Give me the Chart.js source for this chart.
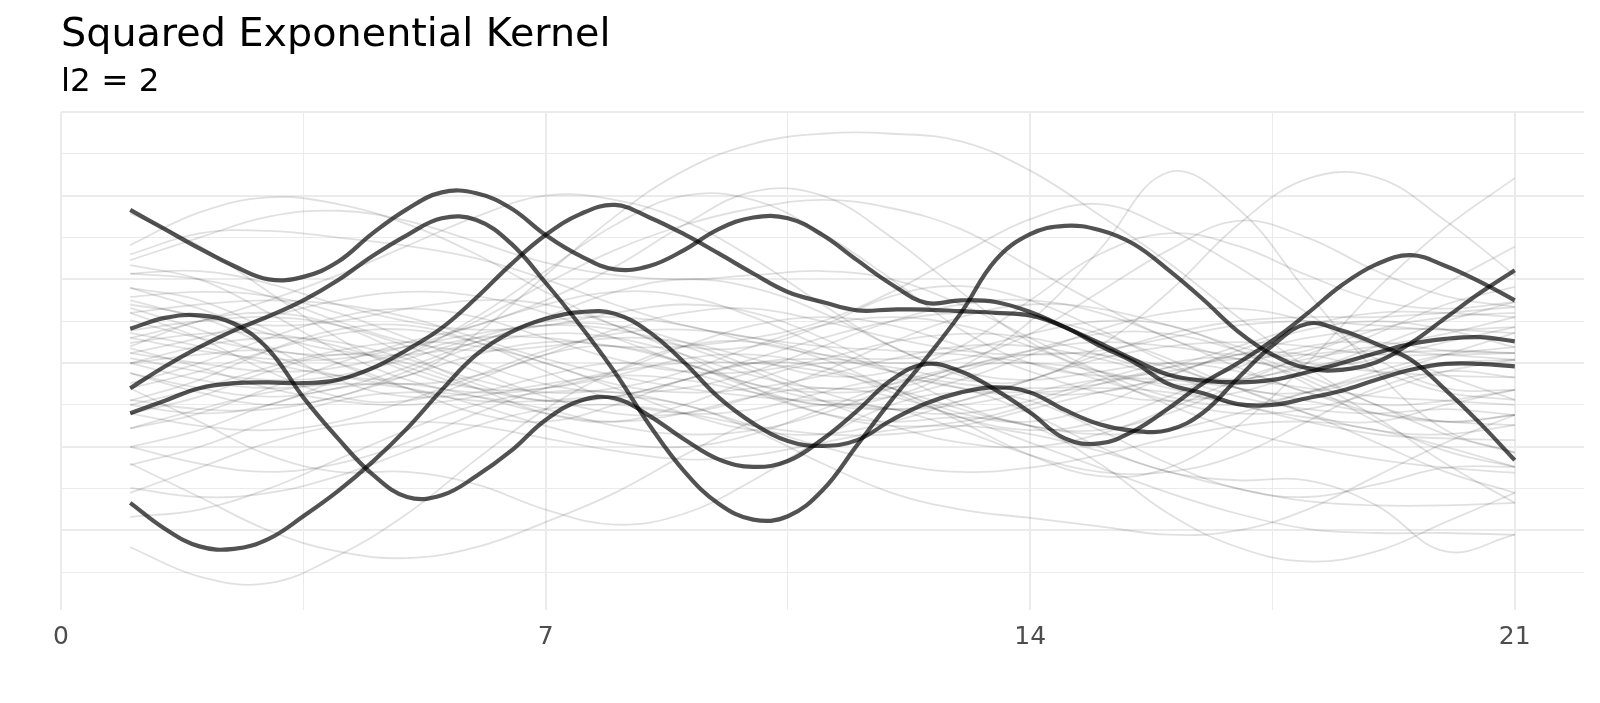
<!DOCTYPE html>
<html>
<head>
<meta charset="utf-8">
<title>Squared Exponential Kernel</title>
<script src="https://cdn.jsdelivr.net/npm/chart.js@4.4.1/dist/chart.umd.min.js"></script>
<style>
  html, body { margin: 0; padding: 0; background: #ffffff; }
  canvas { display: block; }
</style>
</head>
<body>
<canvas id="myChart" width="1600" height="703"></canvas>
<script>
// x positions of the samples
const xFine = [1, 1.5, 2, 2.5, 3, 3.5, 4, 4.5, 5, 5.5, 6, 6.5, 7, 7.5, 8, 8.5, 9, 9.5, 10, 10.5,
    11, 11.5, 12, 12.5, 13, 13.5, 14, 14.5, 15, 15.5, 16, 16.5, 17, 17.5, 18, 18.5, 19, 19.5, 20, 20.5, 21];
const xInt = [1, 2, 3, 4, 5, 6, 7, 8, 9, 10, 11, 12, 13, 14, 15, 16, 17, 18, 19, 20, 21];
const xTicks = [0, 3.5, 7, 10.5, 14, 17.5, 21];

// highlighted draws
const darkA = [1.83, 1.60, 1.37, 1.16, 1.00, 1.03, 1.21, 1.55, 1.84, 2.04, 2.03, 1.85, 1.53, 1.28, 1.12, 1.16, 1.35, 1.60, 1.74, 1.73,
    1.53, 1.23, 0.94, 0.72, 0.75, 0.73, 0.61, 0.43, 0.24, 0.04, -0.14, -0.21, -0.23, -0.20, -0.11, 0, 0.12, 0.23, 0.29, 0.31, 0.26];
const darkB = [-0.30, -0.04, 0.19, 0.39, 0.56, 0.75, 0.99, 1.28, 1.53, 1.73, 1.71, 1.43, 0.96, 0.45, -0.11, -0.74, -1.29, -1.68, -1.87, -1.83,
    -1.52, -0.98, -0.44, 0.06, 0.60, 1.23, 1.54, 1.64, 1.59, 1.42, 1.11, 0.76, 0.38, 0.10, -0.06, -0.08, 0.01, 0.24, 0.54, 0.84, 1.11];
const darkC = [0.41, 0.54, 0.57, 0.47, 0.16, -0.41, -0.90, -1.33, -1.60, -1.58, -1.35, -1.05, -0.68, -0.45, -0.42, -0.63, -0.91, -1.15, -1.24, -1.17,
    -0.91, -0.57, -0.20, -0.01, -0.10, -0.32, -0.59, -0.90, -0.96, -0.81, -0.54, -0.24, 0, 0.27, 0.59, 0.93, 1.18, 1.29, 1.16, 0.97, 0.75];
const darkD = [-0.60, -0.45, -0.30, -0.24, -0.23, -0.24, -0.20, -0.06, 0.16, 0.42, 0.78, 1.18, 1.53, 1.78, 1.89, 1.74, 1.54, 1.31, 1.07, 0.85,
    0.73, 0.63, 0.64, 0.64, 0.62, 0.60, 0.57, 0.43, 0.21, 0.01, -0.25, -0.36, -0.49, -0.50, -0.42, -0.33, -0.20, -0.08, -0.01, -0.01, -0.04];
const darkE = [-1.67, -1.98, -2.19, -2.22, -2.10, -1.83, -1.53, -1.18, -0.78, -0.32, 0.10, 0.37, 0.53, 0.61, 0.59, 0.37, 0.01, -0.41, -0.72, -0.93,
    -0.99, -0.92, -0.68, -0.48, -0.35, -0.29, -0.35, -0.56, -0.73, -0.81, -0.80, -0.59, -0.18, 0.21, 0.47, 0.39, 0.23, 0.04, -0.32, -0.72, -1.16];

// background draws, one value per integer x
const grey01 = [0.36, 0.2, 0.0, -0.15, -0.15, 0.35, 1.05, 1.75, 2.3, 2.62, 2.74, 2.74, 2.65, 2.3, 1.77, 1.2, 0.55, -0.05, -0.5, -0.7, -0.62];
const grey02 = [0.6, 0.3, -0.1, -0.4, -0.45, -0.2, 0.1, 0.2, 0.0, -0.3, -0.5, -0.4, -0.05, 0.5, 1.35, 2.28, 1.85, 0.85, -0.1, -0.8, -1.07];
const grey03 = [-0.6, -0.4, -0.1, 0.1, 0.0, -0.3, -0.6, -0.7, -0.5, -0.2, 0.0, -0.05, -0.2, -0.2, 0.2, 0.85, 1.65, 2.2, 2.22, 1.7, 1.05];
const grey04 = [0.0, 0.1, 0.15, 0.0, -0.3, -0.6, -0.7, -0.5, -0.2, 0.0, -0.05, -0.3, -0.7, -1.1, -1.35, -1.25, -0.75, 0.0, 0.88, 1.62, 2.21];
const grey05 = [-2.2, -2.55, -2.63, -2.3, -1.8, -1.15, -0.55, -0.1, 0.2, 0.25, 0.05, -0.3, -0.6, -0.7, -0.5, -0.15, 0.1, 0.1, -0.1, -0.35, -0.44];
const grey06 = [-1.2, -1.6, -2.0, -2.25, -2.33, -2.2, -1.9, -1.55, -1.1, -0.7, -0.5, -0.55, -0.8, -1.1, -1.3, -1.3, -1.1, -0.7, -0.3, -0.1, -0.17];
const grey07 = [-0.3, -0.7, -1.1, -1.3, -1.3, -1.45, -1.75, -1.93, -1.8, -1.4, -0.9, -0.5, -0.35, -0.45, -0.8, -1.2, -1.5, -1.6, -1.45, -1.25, -1.24];
const grey08 = [0.7, 0.55, 0.2, -0.2, -0.4, -0.35, -0.15, 0.0, -0.1, -0.35, -0.6, -0.7, -0.65, -0.75, -1.2, -1.8, -2.2, -2.37, -2.25, -1.9, -1.55];
const grey09 = [-0.45, -0.2, 0.15, 0.4, 0.45, 0.25, -0.1, -0.45, -0.6, -0.55, -0.35, -0.2, -0.3, -0.6, -1.0, -1.3, -1.4, -1.4, -1.7, -2.25, -2.05];
const grey10 = [-1.0, -0.8, -0.5, -0.3, -0.25, -0.4, -0.6, -0.7, -0.6, -0.4, -0.3, -0.4, -0.65, -0.95, -1.25, -1.55, -1.8, -1.98, -2.03, -2.03, -2.05];
const grey11 = [0.9, 0.75, 0.4, 0.0, -0.3, -0.45, -0.45, -0.4, -0.5, -0.8, -1.2, -1.55, -1.75, -1.85, -1.95, -2.05, -2.0, -1.75, -1.35, -0.95, -0.62];
const grey12 = [1.41, 1.8, 1.98, 1.9, 1.66, 1.3, 0.85, 0.45, 0.2, 0.2, 0.45, 0.8, 0.92, 0.75, 0.4, 0.0, -0.3, -0.35, -0.15, 0.1, 0.36];
const grey13 = [1.23, 1.5, 1.75, 1.82, 1.7, 1.45, 1.2, 1.05, 1.0, 1.05, 1.1, 1.0, 0.7, 0.3, -0.1, -0.4, -0.5, -0.35, -0.1, 0.1, 0.19];
const grey14 = [1.3, 1.55, 1.58, 1.5, 1.4, 1.25, 1.0, 0.7, 0.45, 0.3, 0.2, 0.15, 0.1, 0.0, -0.2, -0.45, -0.6, -0.55, -0.35, -0.1, 0.04];
const grey15 = [0.0, -0.2, -0.3, -0.2, 0.1, 0.55, 1.1, 1.65, 2.0, 1.95, 1.55, 1.0, 0.4, 0.0, -0.15, -0.1, 0.1, 0.3, 0.4, 0.4, 0.36];
const grey16 = [-0.78, -0.6, -0.3, 0.0, 0.25, 0.45, 0.75, 1.15, 1.65, 2.05, 2.0, 1.5, 0.85, 0.25, -0.1, -0.25, -0.2, -0.05, 0.1, 0.15, 0.12];
const grey17 = [0.12, 0.0, -0.1, -0.05, 0.15, 0.5, 0.95, 1.35, 1.65, 1.85, 1.95, 1.85, 1.6, 1.15, 0.7, 0.3, 0.05, -0.05, 0.05, 0.25, 0.43];
const grey18 = [-0.5, -0.6, -0.5, -0.2, 0.1, 0.3, 0.3, 0.2, 0.2, 0.3, 0.5, 0.85, 1.3, 1.72, 1.9, 1.6, 1.15, 0.6, 0.05, -0.3, -0.32];
const grey19 = [0.2, 0.5, 0.6, 0.45, 0.1, -0.25, -0.45, -0.4, -0.2, 0.0, 0.05, 0.0, 0.05, 0.35, 0.85, 1.35, 1.7, 1.5, 1.1, 0.8, 0.67];
const grey20 = [1.07, 1.0, 0.8, 0.5, 0.25, 0.15, 0.2, 0.3, 0.25, 0.05, -0.15, -0.1, 0.2, 0.75, 1.3, 1.55, 1.4, 1.05, 0.75, 0.65, 0.73];
const grey21 = [-0.12, -0.35, -0.5, -0.4, -0.1, 0.2, 0.35, 0.3, 0.1, -0.15, -0.3, -0.25, -0.05, 0.15, 0.25, 0.2, 0.1, 0.15, 0.5, 0.95, 1.39];
const grey22 = [1.79, 1.4, 0.85, 0.3, -0.1, -0.3, -0.3, -0.15, 0.05, 0.1, -0.05, -0.35, -0.65, -0.8, -0.7, -0.4, -0.05, 0.2, 0.25, 0.15, 0.12];
const grey23 = [0.3, 0.5, 0.75, 1.05, 1.4, 1.75, 2.0, 1.95, 1.7, 1.25, 0.7, 0.2, -0.1, -0.2, -0.1, 0.0, -0.1, -0.35, -0.6, -0.7, -0.62];
const grey24 = [1.17, 1.0, 0.6, 0.15, -0.2, -0.35, -0.3, -0.1, 0.2, 0.45, 0.55, 0.45, 0.2, -0.1, -0.35, -0.45, -0.35, -0.1, 0.2, 0.5, 0.73];
const grey25 = [1.07, 1.1, 0.95, 0.7, 0.5, 0.4, 0.45, 0.6, 0.7, 0.6, 0.3, -0.1, -0.5, -0.75, -0.8, -0.6, -0.25, 0.1, 0.4, 0.55, 0.6];
const grey26 = [0.9, 0.65, 0.35, 0.15, 0.1, 0.25, 0.55, 0.85, 1.0, 0.9, 0.6, 0.2, -0.15, -0.35, -0.35, -0.15, 0.15, 0.4, 0.5, 0.4, 0.19];
const grey27 = [0.79, 0.85, 0.8, 0.6, 0.3, 0.0, -0.25, -0.35, -0.3, -0.1, 0.2, 0.5, 0.7, 0.75, 0.6, 0.3, -0.05, -0.35, -0.5, -0.45, -0.32];
const grey28 = [0.75, 0.55, 0.45, 0.5, 0.65, 0.75, 0.7, 0.45, 0.1, -0.3, -0.6, -0.75, -0.7, -0.5, -0.25, -0.05, 0.05, 0.1, 0.2, 0.35, 0.55];
const grey29 = [0.66, 0.4, 0.1, -0.15, -0.25, -0.15, 0.1, 0.4, 0.6, 0.65, 0.5, 0.3, 0.15, 0.1, 0.15, 0.3, 0.45, 0.5, 0.45, 0.4, 0.43];
const grey30 = [0.6, 0.7, 0.75, 0.7, 0.55, 0.3, 0.05, -0.15, -0.3, -0.4, -0.45, -0.4, -0.2, 0.1, 0.4, 0.6, 0.65, 0.5, 0.2, -0.15, -0.44];
const grey31 = [0.51, 0.3, 0.15, 0.1, 0.2, 0.35, 0.45, 0.4, 0.2, -0.1, -0.45, -0.75, -0.95, -1.0, -0.85, -0.55, -0.2, 0.05, 0.15, 0.1, 0.04];
const grey32 = [0.39, 0.5, 0.55, 0.45, 0.2, -0.1, -0.4, -0.6, -0.6, -0.4, -0.1, 0.25, 0.55, 0.7, 0.65, 0.45, 0.2, 0.0, -0.1, -0.15, -0.17];
const grey33 = [0.3, 0.15, 0.05, 0.05, 0.2, 0.45, 0.7, 0.85, 0.8, 0.55, 0.2, -0.1, -0.3, -0.35, -0.3, -0.35, -0.5, -0.7, -0.85, -0.9, -0.92];
const grey34 = [0.24, 0.35, 0.35, 0.2, -0.05, -0.3, -0.45, -0.4, -0.2, 0.05, 0.3, 0.5, 0.6, 0.55, 0.35, 0.05, -0.3, -0.6, -0.8, -0.85, -0.74];
const grey35 = [0.18, -0.05, -0.3, -0.45, -0.5, -0.4, -0.25, -0.15, -0.2, -0.35, -0.5, -0.55, -0.45, -0.2, 0.1, 0.35, 0.5, 0.55, 0.55, 0.6, 0.67];
const grey36 = [0.12, 0.3, 0.55, 0.75, 0.85, 0.8, 0.6, 0.3, 0.0, -0.25, -0.35, -0.3, -0.1, 0.15, 0.35, 0.35, 0.15, -0.15, -0.5, -0.85, -1.07];
const grey37 = [0.06, -0.1, -0.2, -0.15, 0.05, 0.3, 0.5, 0.55, 0.45, 0.25, 0.1, 0.05, 0.15, 0.35, 0.5, 0.45, 0.15, -0.25, -0.7, -1.05, -1.24];
const grey38 = [0.0, 0.2, 0.3, 0.25, 0.05, -0.2, -0.35, -0.3, -0.1, 0.2, 0.45, 0.55, 0.45, 0.2, -0.15, -0.5, -0.8, -1.0, -1.15, -1.25, -1.31];
const grey39 = [-0.12, -0.3, -0.4, -0.3, -0.05, 0.25, 0.45, 0.45, 0.25, -0.05, -0.35, -0.55, -0.6, -0.45, -0.2, 0.0, 0.05, -0.2, -0.65, -1.2, -1.67];
const grey40 = [-0.24, 0.0, 0.3, 0.55, 0.65, 0.55, 0.3, 0.05, -0.1, -0.1, 0.05, 0.25, 0.35, 0.3, 0.1, -0.15, -0.4, -0.55, -0.6, -0.55, -0.62];
const grey41 = [-0.44, -0.55, -0.55, -0.4, -0.15, 0.1, 0.25, 0.2, 0.0, -0.25, -0.45, -0.55, -0.5, -0.35, -0.2, -0.2, -0.3, -0.45, -0.6, -0.7, -0.74];
const grey42 = [-0.5, -0.3, -0.05, 0.15, 0.25, 0.2, 0.0, -0.3, -0.6, -0.8, -0.85, -0.7, -0.45, -0.2, 0.05, 0.2, 0.25, 0.2, 0.1, 0.1, 0.12];
const grey43 = [-0.6, -0.75, -0.8, -0.7, -0.45, -0.15, 0.15, 0.35, 0.4, 0.3, 0.1, -0.1, -0.25, -0.3, -0.25, -0.05, 0.2, 0.45, 0.6, 0.6, 0.55];
const grey44 = [-0.78, -0.55, -0.35, -0.25, -0.3, -0.5, -0.75, -0.95, -1.0, -0.85, -0.55, -0.25, -0.05, 0.0, -0.1, -0.3, -0.5, -0.65, -0.7, -0.5, -0.32];
const grey45 = [-1.0, -1.2, -1.3, -1.2, -0.95, -0.6, -0.3, -0.1, 0.0, 0.0, -0.1, -0.3, -0.55, -0.75, -0.85, -0.8, -0.6, -0.35, -0.15, 0.0, 0.04];
const grey46 = [-1.22, -1.0, -0.7, -0.45, -0.35, -0.4, -0.55, -0.75, -0.85, -0.8, -0.6, -0.3, -0.05, 0.1, 0.1, -0.05, -0.3, -0.6, -0.95, -1.3, -1.55];
const grey47 = [-1.49, -1.6, -1.55, -1.35, -1.05, -0.75, -0.55, -0.5, -0.6, -0.75, -0.85, -0.85, -0.75, -0.55, -0.35, -0.2, -0.2, -0.3, -0.4, -0.45, -0.5];
const grey48 = [-1.55, -1.25, -0.95, -0.75, -0.7, -0.75, -0.9, -1.05, -1.15, -1.1, -0.95, -0.8, -0.75, -0.85, -1.05, -1.3, -1.5, -1.65, -1.7, -1.7, -1.67];
const grey49 = [-1.84, -1.75, -1.5, -1.15, -0.8, -0.5, -0.35, -0.35, -0.5, -0.75, -1.0, -1.2, -1.3, -1.25, -1.1, -0.9, -0.75, -0.7, -0.8, -1.0, -1.24];
const grey50 = [-0.3, -0.1, 0.15, 0.35, 0.4, 0.25, 0.0, -0.25, -0.35, -0.3, -0.15, 0.05, 0.2, 0.2, 0.05, -0.15, -0.2, 0.0, 0.35, 0.7, 0.91];

const darkCurves = [darkA, darkB, darkC, darkD, darkE];
const greyCurves = [grey01, grey02, grey03, grey04, grey05, grey06, grey07, grey08, grey09, grey10,
    grey11, grey12, grey13, grey14, grey15, grey16, grey17, grey18, grey19, grey20,
    grey21, grey22, grey23, grey24, grey25, grey26, grey27, grey28, grey29, grey30,
    grey31, grey32, grey33, grey34, grey35, grey36, grey37, grey38, grey39, grey40,
    grey41, grey42, grey43, grey44, grey45, grey46, grey47, grey48, grey49, grey50];

function toPoints(xs, ys) {
    let pts = [];
    for (let i = 0; i < ys.length; i++) {
        pts.push({ x: xs[i], y: ys[i] });
    }
    return pts;
}

let datasets = [];

for (let i = 0; i < darkCurves.length; i++) {
    datasets.push({
        data: toPoints(xFine, darkCurves[i]),
        borderColor: 'rgba(0, 0, 0, 0.68)',
        borderWidth: 4.2,
        pointRadius: 0,
        tension: 0.4,
        order: 0
    });
}

for (let i = 0; i < greyCurves.length; i++) {
    datasets.push({
        data: toPoints(xInt, greyCurves[i]),
        borderColor: 'rgba(0, 0, 0, 0.12)',
        borderWidth: 1.8,
        pointRadius: 0,
        tension: 0.4,
        order: 1
    });
}

const titles = {
    id: 'titles',
    afterDraw(chart) {
        const ctx = chart.ctx;
        ctx.save();
        ctx.fillStyle = '#000000';
        ctx.textAlign = 'left';
        ctx.textBaseline = 'alphabetic';
        ctx.font = '39.7px "DejaVu Sans"';
        ctx.fillText('Squared Exponential Kernel', 61, 46);
        ctx.font = '32.6px "DejaVu Sans"';
        ctx.fillText('l2 = 2', 61, 91);
        ctx.restore();
    }
};

const config = {
    type: 'line',
    data: { datasets: datasets },
    options: {
        responsive: false,
        animation: false,
        devicePixelRatio: 1,
        events: [],
        layout: {
            padding: { left: 61, right: 16, top: 112, bottom: 39 }
        },
        plugins: {
            legend: { display: false },
            tooltip: { enabled: false }
        },
        scales: {
            x: {
                type: 'linear',
                min: 0,
                max: 22,
                border: { display: false },
                afterBuildTicks: function (axis) {
                    axis.ticks = xTicks.map(v => ({ value: v }));
                },
                grid: {
                    color: '#EBEBEB',
                    drawTicks: false,
                    lineWidth: ctx => (ctx.tick && ctx.tick.value % 7 === 0) ? 2 : 1
                },
                ticks: {
                    autoSkip: false,
                    maxRotation: 0,
                    padding: 12,
                    color: '#4D4D4D',
                    font: { family: 'DejaVu Sans', size: 25 },
                    callback: v => (v % 7 === 0 ? String(v) : '')
                }
            },
            y: {
                type: 'linear',
                min: -2.95,
                max: 3,
                border: { display: false },
                afterBuildTicks: function (axis) {
                    let t = [];
                    for (let v = -2.5; v <= 3; v += 0.5) t.push({ value: v });
                    axis.ticks = t;
                },
                grid: {
                    color: '#EBEBEB',
                    drawTicks: false,
                    lineWidth: ctx => (ctx.tick && Number.isInteger(ctx.tick.value)) ? 2 : 1
                },
                ticks: { display: false }
            }
        }
    },
    plugins: [titles]
};

const myChart = new Chart(document.getElementById('myChart'), config);
</script>
</body>
</html>
